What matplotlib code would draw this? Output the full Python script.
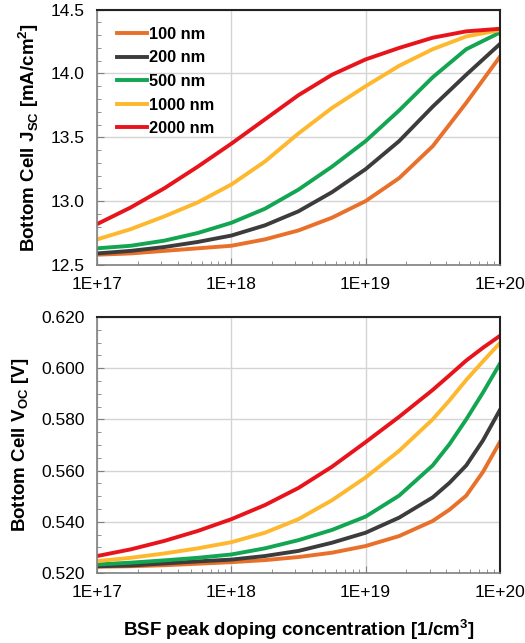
import numpy as np
import matplotlib
matplotlib.use("Agg")
import matplotlib.pyplot as plt
from matplotlib.ticker import MultipleLocator, LogLocator, FuncFormatter, NullFormatter

plt.rcParams['font.family'] = ['Liberation Sans', 'DejaVu Sans']
plt.rcParams['mathtext.fontset'] = 'custom'
plt.rcParams['mathtext.rm'] = 'Liberation Sans'
plt.rcParams['mathtext.bf'] = 'Liberation Sans:bold'

# log10 of BSF peak doping
jsc_exp = [17.0, 17.25, 17.5, 17.75, 18.0, 18.25, 18.5, 18.75, 19.0, 19.25, 19.5, 19.75, 20.0]
voc_exp = [17.0, 17.25, 17.5, 17.75, 18.0, 18.25, 18.5, 18.75, 19.0, 19.25, 19.5, 19.625, 19.75,
           19.875, 20.0]
jsc_doping = [10 ** e for e in jsc_exp]
voc_doping = [10 ** e for e in voc_exp]

labels = ["100 nm", "200 nm", "500 nm", "1000 nm", "2000 nm"]
colors = ["#E8702A", "#3C3C3C", "#12A552", "#FDB82E", "#E8141C"]

jsc_100 = [12.58, 12.59, 12.61, 12.63, 12.65, 12.70, 12.77, 12.87, 13.00, 13.18, 13.43, 13.77, 14.13]
jsc_200 = [12.59, 12.61, 12.64, 12.68, 12.73, 12.81, 12.92, 13.07, 13.25, 13.47, 13.74, 13.99, 14.23]
jsc_500 = [12.63, 12.65, 12.69, 12.75, 12.83, 12.94, 13.09, 13.27, 13.47, 13.71, 13.97, 14.19, 14.32]
jsc_1000 = [12.70, 12.78, 12.88, 12.99, 13.13, 13.31, 13.53, 13.73, 13.90, 14.06, 14.19, 14.29, 14.34]
jsc_2000 = [12.82, 12.95, 13.10, 13.27, 13.45, 13.64, 13.83, 13.99, 14.11, 14.20, 14.28, 14.33, 14.35]

voc_100 = [0.5224, 0.5226, 0.5230, 0.5236, 0.5242, 0.5250, 0.5262, 0.5279, 0.5305, 0.5344, 0.5403,
           0.5447, 0.5502, 0.5595, 0.5711]
voc_200 = [0.5226, 0.5229, 0.5237, 0.5245, 0.5252, 0.5266, 0.5286, 0.5318, 0.5357, 0.5416, 0.5495,
           0.5552, 0.5620, 0.5718, 0.5836]
voc_500 = [0.5233, 0.5240, 0.5249, 0.5259, 0.5272, 0.5296, 0.5328, 0.5368, 0.5420, 0.5502, 0.5620,
           0.5703, 0.5800, 0.5905, 0.6017]
voc_1000 = [0.5246, 0.5259, 0.5276, 0.5296, 0.5320, 0.5357, 0.5410, 0.5484, 0.5573, 0.5677, 0.5800,
            0.5874, 0.5954, 0.6027, 0.6098]
voc_2000 = [0.5266, 0.5292, 0.5325, 0.5364, 0.5410, 0.5465, 0.5532, 0.5615, 0.5711, 0.5810, 0.5915,
            0.5972, 0.6030, 0.6080, 0.6126]

jsc_all = [jsc_100, jsc_200, jsc_500, jsc_1000, jsc_2000]
voc_all = [voc_100, voc_200, voc_500, voc_1000, voc_2000]

fig = plt.figure(figsize=(5.25, 6.43), dpi=100)
ax1 = fig.add_axes([0.185, 0.588, 0.767, 0.397])
ax2 = fig.add_axes([0.185, 0.109, 0.767, 0.398])


def style_axis(ax):
    ax.set_xscale('log')
    ax.set_xlim(1e17, 1e20)
    ax.xaxis.set_major_locator(LogLocator(base=10))
    ax.xaxis.set_minor_locator(LogLocator(base=10, subs=np.arange(2, 10)))
    ax.xaxis.set_minor_formatter(NullFormatter())
    ax.xaxis.set_major_formatter(FuncFormatter(lambda v, p: "1E+%d" % round(np.log10(v))))
    ax.grid(True, which='major', color='#d4d4d4', linewidth=1.0)
    ax.set_axisbelow(True)
    ax.tick_params(which='both', direction='in', colors='#808080', labelcolor='black',
                   labelsize=12.5)
    ax.tick_params(axis='x', which='both', pad=9)
    ax.tick_params(axis='y', which='both', pad=9)
    ax.tick_params(which='major', length=5)
    ax.tick_params(which='minor', length=3)
    for s in ['top', 'right']:
        ax.spines[s].set_color('#222222')
        ax.spines[s].set_linewidth(1.5)
    for s in ['left', 'bottom']:
        ax.spines[s].set_color('#808080')
        ax.spines[s].set_linewidth(1.2)


for ys, c, lab in zip(jsc_all, colors, labels):
    ax1.plot(jsc_doping, ys, color=c, lw=2.8, label=lab)
style_axis(ax1)
ax1.set_ylim(12.5, 14.5)
ax1.yaxis.set_major_locator(MultipleLocator(0.5))
ax1.yaxis.set_minor_locator(MultipleLocator(0.1))
ax1.yaxis.set_major_formatter(FuncFormatter(lambda v, p: "%.1f" % v))
ax1.set_ylabel(r"Bottom Cell J$_{\mathbf{SC}}$ [mA/cm$^{\mathbf{2}}$]", fontsize=13.5,
               fontweight='bold', labelpad=7)
leg = ax1.legend(loc='upper left', frameon=False, prop={'weight': 'bold', 'size': 11.8},
                 handlelength=1.85, handletextpad=0.12, labelspacing=0.52,
                 bbox_to_anchor=(0.012, 0.99))

for ys, c in zip(voc_all, colors):
    ax2.plot(voc_doping, ys, color=c, lw=2.8)
style_axis(ax2)
ax2.set_ylim(0.52, 0.62)
ax2.yaxis.set_major_locator(MultipleLocator(0.02))
ax2.yaxis.set_minor_locator(MultipleLocator(0.005))
ax2.yaxis.set_major_formatter(FuncFormatter(lambda v, p: "%.3f" % v))
ax2.set_ylabel(r"Bottom Cell V$_{\mathbf{OC}}$ [V]", fontsize=13.5, fontweight='bold', labelpad=7)
ax2.set_xlabel(r"BSF peak doping concentration [1/cm$^{\mathbf{3}}$]", fontsize=13.5,
               fontweight='bold', labelpad=12)

fig.savefig("out.png", dpi=100)
